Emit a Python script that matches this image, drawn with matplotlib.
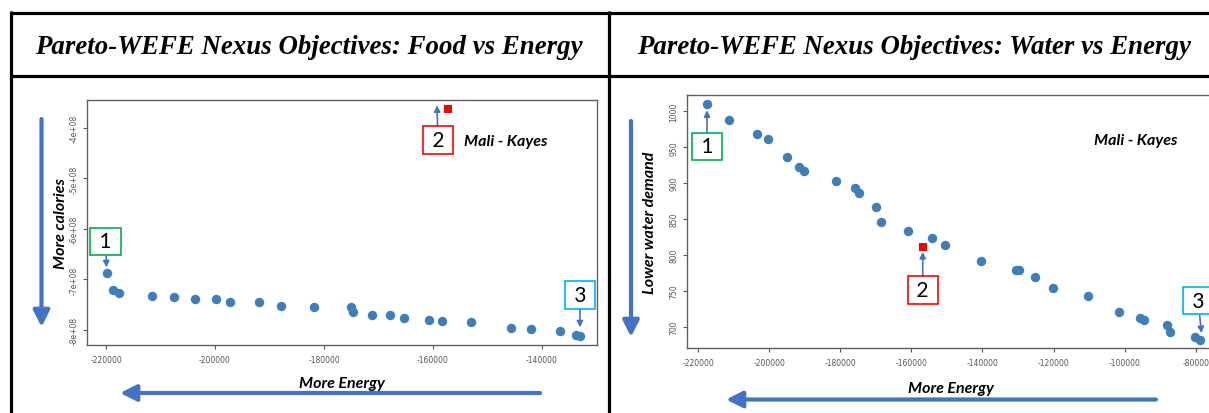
import matplotlib.pyplot as plt
from matplotlib.transforms import ScaledTranslation

W, H = 1209, 414

# left panel: food vs energy
food_energy = [-219900, -218770, -217570, -211580, -207490, -203740, -199780, -197250,
               -191960, -187850, -181870, -175010, -174590, -171210, -167820, -165410,
               -160770, -158300, -152940, -145600, -141930, -136700, -133670, -133030]
food_cal = [-6.88e8, -7.21e8, -7.26e8, -7.33e8, -7.34e8, -7.38e8, -7.38e8, -7.44e8,
            -7.45e8, -7.53e8, -7.55e8, -7.55e8, -7.64e8, -7.70e8, -7.71e8, -7.77e8,
            -7.80e8, -7.83e8, -7.85e8, -7.96e8, -7.98e8, -8.03e8, -8.10e8, -8.12e8]
food_site = (-157250, -3.63e8)
food_xticks = [-220000, -200000, -180000, -160000, -140000]
food_yticks = [-4e8, -5e8, -6e8, -7e8, -8e8]
food_yticklabels = ['-4e+08', '-5e+08', '-6e+08', '-7e+08', '-8e+08']

# right panel: water vs energy
water_energy = [-217470, -211200, -203400, -200220, -194970, -191590, -190270, -181270,
                -175920, -174800, -169840, -168520, -161010, -154090, -150520, -140390,
                -130580, -129710, -125110, -120080, -110440, -101540, -95640, -94650,
                -88090, -87250, -80240, -78750]
water_demand = [1009.7, 987.5, 968.4, 961.4, 936.8, 922.8, 916.9, 902.9,
                893.2, 886.2, 867.1, 845.8, 833.3, 824.0, 813.8, 792.0,
                779.4, 779.4, 769.5, 753.6, 743.4, 720.2, 711.4, 709.5,
                701.7, 692.4, 685.5, 681.8]
water_site = (-156790, 811.0)
water_xticks = [-220000, -200000, -180000, -160000, -140000, -120000, -100000, -80000]
water_yticks = [700, 750, 800, 850, 900, 950, 1000]

titles = ['Pareto-WEFE Nexus Objectives: Food vs Energy',
          'Pareto-WEFE Nexus Objectives: Water vs Energy']

blue = '#4472C4'
pt_col = '#3F7FB8'
green, red, cyan = '#00B050', '#FF0000', '#00B0F0'
lab = dict(family='Lato', weight='bold', style='italic')

fig = plt.figure(figsize=(W / 100, H / 100), dpi=100)

# page frame (table lines, headings, big arrows) in pixel coordinates
bg = fig.add_axes([0, 0, 1, 1])
bg.set_xlim(0, W)
bg.set_ylim(H, 0)
bg.axis('off')
for y in (13.5, 76.5):
    bg.plot([10, W], [y, y], color='black', lw=2.3, solid_capstyle='butt')
for x in (11, 608.5):
    bg.plot([x, x], [12, H], color='black', lw=2.3, solid_capstyle='butt')
bg.text(309, 47, titles[0], ha='center', va='center', fontsize=19.4,
        family='Liberation Serif', weight='bold', style='italic')
bg.text(914, 47, titles[1], ha='center', va='center', fontsize=19.4,
        family='Liberation Serif', weight='bold', style='italic')

def big_arrow(x0, y0, x1, y1):
    bg.annotate('', xy=(x1, y1), xytext=(x0, y0),
                arrowprops=dict(arrowstyle='-|>,head_length=0.7,head_width=0.35',
                                color=blue, lw=3, shrinkA=0, shrinkB=0,
                                mutation_scale=14))

big_arrow(41.5, 120, 41.5, 328)
big_arrow(540, 394, 120, 394)
big_arrow(631, 122, 631, 338)
big_arrow(1156, 400.5, 726, 400.5)


def px_axes(l, t, r, b):
    return fig.add_axes([l / W, 1 - b / H, (r - l) / W, (b - t) / H])


def style(ax):
    for s in ax.spines.values():
        s.set_color('#606060')
        s.set_linewidth(1.0)
    ax.tick_params(direction='out', length=3, width=0.8, colors='#555555',
                   labelsize=5.5, pad=4)
    ax.tick_params(axis='y', pad=3)


def tag(ax, text, xy, color, dy, shrink, tip=(0, 0), dx=0):
    tr = ax.transData + ScaledTranslation(tip[0] / 100, tip[1] / 100, fig.dpi_scale_trans)
    ax.annotate(text, xy=xy, xycoords=tr, xytext=(dx * 0.72, dy * 0.72),
                textcoords='offset points', ha='center', va='center',
                fontsize=15, family='Lato', zorder=5,
                bbox=dict(boxstyle='square,pad=0.18', fc='white', ec=color, lw=1.2),
                arrowprops=dict(arrowstyle='-|>', color=blue, lw=1.2,
                                mutation_scale=9, shrinkA=0, shrinkB=shrink * 0.72),
                annotation_clip=False)


# left panel
ax1 = px_axes(87, 101, 597, 346)
ax1.scatter(food_energy, food_cal, s=46, color=pt_col, zorder=3, linewidths=0)
ax1.scatter(*food_site, s=28, marker='s', color=red, zorder=3, linewidths=0)
ax1.set_xlim(-223500, -129900)
ax1.set_ylim(-8.30e8, -3.445e8)
ax1.set_xticks(food_xticks)
ax1.set_xticklabels([str(v) for v in food_xticks])
ax1.set_yticks(food_yticks)
ax1.set_yticklabels(food_yticklabels, rotation=90, va='center')
style(ax1)
ax1.set_xlabel('More Energy', fontsize=11.5, labelpad=9, **lab)
ax1.set_ylabel('More calories', fontsize=11.5, labelpad=1, **lab)
ax1.text(0.822, 0.833, 'Mali - Kayes', transform=ax1.transAxes, ha='center',
         va='center', fontsize=11.5, **lab)
tag(ax1, ' 1 ', (food_energy[0], food_cal[0]), green, 32, 6, dx=-1)
tag(ax1, ' 2 ', food_site, red, -34.5, 0, tip=(-11, 4), dx=1)
tag(ax1, ' 3 ', (food_energy[-1], food_cal[-1]), cyan, 41, 8.5)

# right panel
ax2 = px_axes(687, 96, 1215, 349)
ax2.scatter(water_energy, water_demand, s=46, color=pt_col, zorder=3, linewidths=0)
ax2.scatter(*water_site, s=28, marker='s', color=red, zorder=3, linewidths=0)
ax2.set_xlim(-223100, -74580)
ax2.set_ylim(670.3, 1022.7)
ax2.set_xticks(water_xticks)
ax2.set_xticklabels([str(v) for v in water_xticks])
ax2.set_yticks(water_yticks)
ax2.set_yticklabels([str(v) for v in water_yticks], rotation=90, va='center')
style(ax2)
ax2.set_xlabel('More Energy', fontsize=11.5, labelpad=10, **lab)
ax2.set_ylabel('Lower water demand', fontsize=11.5, labelpad=9, **lab)
ax2.text(0.849, 0.822, 'Mali - Kayes', transform=ax2.transAxes, ha='center',
         va='center', fontsize=11.5, **lab)
tag(ax2, ' 1 ', (water_energy[0], water_demand[0]), green, -42, 6)
tag(ax2, ' 2 ', water_site, red, -43, 5)
tag(ax2, ' 3 ', (water_energy[-1], water_demand[-1]), cyan, 39, 6.7, tip=(2, 0), dx=-4)

fig.savefig('out.png', dpi=100)
